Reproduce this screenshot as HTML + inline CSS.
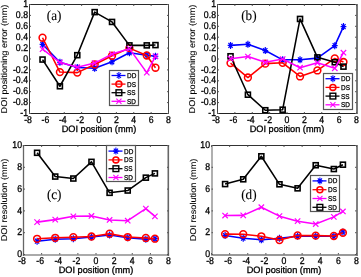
<!DOCTYPE html><html><head><meta charset="utf-8"><style>html,body{margin:0;padding:0;background:#fff;width:361px;height:277px;overflow:hidden}svg{display:block;will-change:transform;text-rendering:geometricPrecision}</style></head><body><svg width="361" height="277" viewBox="0 0 361 277">
<style>.tk{font-family:"Liberation Sans",sans-serif;font-size:9.8px;fill:#000;stroke:#000;stroke-width:0.3px}.lb{font-family:"Liberation Sans",sans-serif;font-size:9.2px;fill:#000;stroke:#000;stroke-width:0.3px}.pn{font-family:"Liberation Serif",serif;font-size:14px;fill:#000;stroke:#000;stroke-width:0.1px}.yl{stroke-width:0.1px}.lg{font-family:"Liberation Sans",sans-serif;font-size:7px;fill:#000;stroke:#000;stroke-width:0.25px}</style>
<rect width="361" height="277" fill="#fff"/>
<polyline points="42.53,44.28 59.91,62.27 77.28,67.45 94.66,68.27 112.03,61.73 129.41,52.73 146.78,55.18 155.47,56.27" fill="none" stroke="#0000ff" stroke-width="1.55" stroke-linejoin="round"/>
<path d="M39.63,44.28H45.43M42.53,40.78V47.78M40.44,41.76L44.62,46.80M40.44,46.80L44.62,41.76" stroke="#0000ff" stroke-width="1.2" fill="none"/>
<path d="M57.01,62.27H62.81M59.91,58.77V65.77M57.82,59.75L62.00,64.79M57.82,64.79L62.00,59.75" stroke="#0000ff" stroke-width="1.2" fill="none"/>
<path d="M74.38,67.45H80.18M77.28,63.95V70.95M75.19,64.93L79.37,69.97M75.19,69.97L79.37,64.93" stroke="#0000ff" stroke-width="1.2" fill="none"/>
<path d="M91.76,68.27H97.56M94.66,64.77V71.77M92.57,65.75L96.75,70.79M92.57,70.79L96.75,65.75" stroke="#0000ff" stroke-width="1.2" fill="none"/>
<path d="M109.13,61.73H114.93M112.03,58.23V65.23M109.94,59.21L114.12,64.25M109.94,64.25L114.12,59.21" stroke="#0000ff" stroke-width="1.2" fill="none"/>
<path d="M126.51,52.73H132.31M129.41,49.23V56.23M127.32,50.21L131.50,55.25M127.32,55.25L131.50,50.21" stroke="#0000ff" stroke-width="1.2" fill="none"/>
<path d="M143.88,55.18H149.68M146.78,51.68V58.68M144.69,52.66L148.87,57.70M144.69,57.70L148.87,52.66" stroke="#0000ff" stroke-width="1.2" fill="none"/>
<path d="M152.57,56.27H158.37M155.47,52.77V59.77M153.38,53.75L157.56,58.79M153.38,58.79L157.56,53.75" stroke="#0000ff" stroke-width="1.2" fill="none"/>
<polyline points="42.53,37.74 59.91,72.08 77.28,72.62 94.66,64.45 112.03,55.73 129.41,48.10 146.78,55.46 155.47,67.72" fill="none" stroke="#ff0000" stroke-width="1.55" stroke-linejoin="round"/>
<circle cx="42.53" cy="37.74" r="3.40" stroke="#ff0000" stroke-width="1.5499999999999998" fill="none"/>
<circle cx="59.91" cy="72.08" r="3.40" stroke="#ff0000" stroke-width="1.5499999999999998" fill="none"/>
<circle cx="77.28" cy="72.62" r="3.40" stroke="#ff0000" stroke-width="1.5499999999999998" fill="none"/>
<circle cx="94.66" cy="64.45" r="3.40" stroke="#ff0000" stroke-width="1.5499999999999998" fill="none"/>
<circle cx="112.03" cy="55.73" r="3.40" stroke="#ff0000" stroke-width="1.5499999999999998" fill="none"/>
<circle cx="129.41" cy="48.10" r="3.40" stroke="#ff0000" stroke-width="1.5499999999999998" fill="none"/>
<circle cx="146.78" cy="55.46" r="3.40" stroke="#ff0000" stroke-width="1.5499999999999998" fill="none"/>
<circle cx="155.47" cy="67.72" r="3.40" stroke="#ff0000" stroke-width="1.5499999999999998" fill="none"/>
<polyline points="42.53,59.55 59.91,86.25 77.28,55.18 94.66,12.13 112.03,21.94 129.41,45.38 146.78,45.38 155.47,45.10" fill="none" stroke="#000000" stroke-width="1.55" stroke-linejoin="round"/>
<rect x="40.03" y="57.05" width="5.00" height="5.00" stroke="#000000" stroke-width="1.6" fill="none"/>
<rect x="57.41" y="83.75" width="5.00" height="5.00" stroke="#000000" stroke-width="1.6" fill="none"/>
<rect x="74.78" y="52.68" width="5.00" height="5.00" stroke="#000000" stroke-width="1.6" fill="none"/>
<rect x="92.16" y="9.63" width="5.00" height="5.00" stroke="#000000" stroke-width="1.6" fill="none"/>
<rect x="109.53" y="19.44" width="5.00" height="5.00" stroke="#000000" stroke-width="1.6" fill="none"/>
<rect x="126.91" y="42.88" width="5.00" height="5.00" stroke="#000000" stroke-width="1.6" fill="none"/>
<rect x="144.28" y="42.88" width="5.00" height="5.00" stroke="#000000" stroke-width="1.6" fill="none"/>
<rect x="152.97" y="42.60" width="5.00" height="5.00" stroke="#000000" stroke-width="1.6" fill="none"/>
<polyline points="42.53,49.19 59.91,62.27 77.28,67.18 94.66,63.09 112.03,54.09 129.41,48.64 146.78,72.62 155.47,56.27" fill="none" stroke="#ff00ff" stroke-width="1.55" stroke-linejoin="round"/>
<path d="M39.83,46.49L45.23,51.89M39.83,51.89L45.23,46.49" stroke="#ff00ff" stroke-width="1.2" fill="none"/>
<path d="M57.21,59.57L62.61,64.97M57.21,64.97L62.61,59.57" stroke="#ff00ff" stroke-width="1.2" fill="none"/>
<path d="M74.58,64.48L79.98,69.88M74.58,69.88L79.98,64.48" stroke="#ff00ff" stroke-width="1.2" fill="none"/>
<path d="M91.96,60.39L97.36,65.79M91.96,65.79L97.36,60.39" stroke="#ff00ff" stroke-width="1.2" fill="none"/>
<path d="M109.33,51.39L114.73,56.79M109.33,56.79L114.73,51.39" stroke="#ff00ff" stroke-width="1.2" fill="none"/>
<path d="M126.71,45.94L132.11,51.34M126.71,51.34L132.11,45.94" stroke="#ff00ff" stroke-width="1.2" fill="none"/>
<path d="M144.08,69.92L149.48,75.32M144.08,75.32L149.48,69.92" stroke="#ff00ff" stroke-width="1.2" fill="none"/>
<path d="M152.77,53.57L158.17,58.97M152.77,58.97L158.17,53.57" stroke="#ff00ff" stroke-width="1.2" fill="none"/>
<path d="M29.0,4.5H169.0" stroke="#2a2a2a" stroke-width="1"/>
<path d="M29.0,113.5H169.0" stroke="#222" stroke-width="1"/>
<path d="M29.5,4.0V114.0" stroke="#333" stroke-width="1"/>
<path d="M168.5,4.0V114.0" stroke="#444" stroke-width="1"/>
<path d="M29.5,113.5v-1.5M29.5,4.5v1.5" stroke="#555" stroke-width="1"/>
<text transform="translate(31.92,122.50) scale(0.89,1)" text-anchor="end" class="tk">-8</text>
<path d="M46.875,113.5v-1.5M46.875,4.5v1.5" stroke="#555" stroke-width="1"/>
<text transform="translate(49.30,122.50) scale(0.89,1)" text-anchor="end" class="tk">-6</text>
<path d="M64.25,113.5v-1.5M64.25,4.5v1.5" stroke="#555" stroke-width="1"/>
<text transform="translate(66.67,122.50) scale(0.89,1)" text-anchor="end" class="tk">-4</text>
<path d="M81.625,113.5v-1.5M81.625,4.5v1.5" stroke="#555" stroke-width="1"/>
<text transform="translate(84.05,122.50) scale(0.89,1)" text-anchor="end" class="tk">-2</text>
<path d="M99.0,113.5v-1.5M99.0,4.5v1.5" stroke="#555" stroke-width="1"/>
<text transform="translate(101.42,122.50) scale(0.89,1)" text-anchor="end" class="tk">0</text>
<path d="M116.375,113.5v-1.5M116.375,4.5v1.5" stroke="#555" stroke-width="1"/>
<text transform="translate(118.80,122.50) scale(0.89,1)" text-anchor="end" class="tk">2</text>
<path d="M133.75,113.5v-1.5M133.75,4.5v1.5" stroke="#555" stroke-width="1"/>
<text transform="translate(136.17,122.50) scale(0.89,1)" text-anchor="end" class="tk">4</text>
<path d="M151.125,113.5v-1.5M151.125,4.5v1.5" stroke="#555" stroke-width="1"/>
<text transform="translate(153.54,122.50) scale(0.89,1)" text-anchor="end" class="tk">6</text>
<path d="M168.5,113.5v-1.5M168.5,4.5v1.5" stroke="#555" stroke-width="1"/>
<text transform="translate(170.92,122.50) scale(0.89,1)" text-anchor="end" class="tk">8</text>
<path d="M29.5,113.5h1.5M168.5,113.5h-1.5" stroke="#555" stroke-width="1"/>
<text transform="translate(28.00,116.10) scale(0.89,1)" text-anchor="end" class="tk">-1</text>
<path d="M29.5,102.60000000000001h1.5M168.5,102.60000000000001h-1.5" stroke="#555" stroke-width="1"/>
<text transform="translate(28.00,105.20) scale(0.89,1)" text-anchor="end" class="tk">-0.8</text>
<path d="M29.5,91.7h1.5M168.5,91.7h-1.5" stroke="#555" stroke-width="1"/>
<text transform="translate(28.00,94.30) scale(0.89,1)" text-anchor="end" class="tk">-0.6</text>
<path d="M29.5,80.80000000000001h1.5M168.5,80.80000000000001h-1.5" stroke="#555" stroke-width="1"/>
<text transform="translate(28.00,83.40) scale(0.89,1)" text-anchor="end" class="tk">-0.4</text>
<path d="M29.5,69.9h1.5M168.5,69.9h-1.5" stroke="#555" stroke-width="1"/>
<text transform="translate(28.00,72.50) scale(0.89,1)" text-anchor="end" class="tk">-0.2</text>
<path d="M29.5,59.0h1.5M168.5,59.0h-1.5" stroke="#555" stroke-width="1"/>
<text transform="translate(28.00,61.60) scale(0.89,1)" text-anchor="end" class="tk">0</text>
<path d="M29.5,48.10000000000001h1.5M168.5,48.10000000000001h-1.5" stroke="#555" stroke-width="1"/>
<text transform="translate(28.00,50.70) scale(0.89,1)" text-anchor="end" class="tk">0.2</text>
<path d="M29.5,37.2h1.5M168.5,37.2h-1.5" stroke="#555" stroke-width="1"/>
<text transform="translate(28.00,39.80) scale(0.89,1)" text-anchor="end" class="tk">0.4</text>
<path d="M29.5,26.299999999999997h1.5M168.5,26.299999999999997h-1.5" stroke="#555" stroke-width="1"/>
<text transform="translate(28.00,28.90) scale(0.89,1)" text-anchor="end" class="tk">0.6</text>
<path d="M29.5,15.399999999999991h1.5M168.5,15.399999999999991h-1.5" stroke="#555" stroke-width="1"/>
<text transform="translate(28.00,18.00) scale(0.89,1)" text-anchor="end" class="tk">0.8</text>
<path d="M29.5,4.5h1.5M168.5,4.5h-1.5" stroke="#555" stroke-width="1"/>
<text transform="translate(28.00,7.10) scale(0.89,1)" text-anchor="end" class="tk">1</text>
<text x="99.0" y="132" text-anchor="middle" class="lb">DOI position (mm)</text>
<text transform="translate(7.3,59.0) rotate(-90) scale(1,0.92)" text-anchor="middle" class="lb yl">DOI positioning error (mm)</text>
<text transform="translate(46.8,20.2) scale(0.94,1)" class="pn">(a)</text>
<rect x="109.5" y="70.5" width="29" height="35" fill="#fff" stroke="#555" stroke-width="1.2"/>
<path d="M111.5,75.5H125.5" stroke="#0000ff" stroke-width="1.3"/>
<path d="M116.00,75.50H121.80M118.90,72.00V79.00M116.81,72.98L120.99,78.02M116.81,78.02L120.99,72.98" stroke="#0000ff" stroke-width="1.1" fill="none"/>
<text transform="translate(127.0,78.0) scale(0.92,1)" class="lg">DD</text>
<path d="M111.5,84.1H125.5" stroke="#ff0000" stroke-width="1.3"/>
<circle cx="118.90" cy="84.10" r="2.96" stroke="#ff0000" stroke-width="1.5499999999999998" fill="none"/>
<text transform="translate(127.0,86.6) scale(0.92,1)" class="lg">DS</text>
<path d="M111.5,92.7H125.5" stroke="#000000" stroke-width="1.3"/>
<rect x="116.03" y="89.83" width="5.75" height="5.75" stroke="#000000" stroke-width="1.4" fill="none"/>
<text transform="translate(127.0,95.2) scale(0.92,1)" class="lg">SS</text>
<path d="M111.5,101.3H125.5" stroke="#ff00ff" stroke-width="1.3"/>
<path d="M116.34,98.73L121.47,103.86M116.34,103.86L121.47,98.73" stroke="#ff00ff" stroke-width="1.1" fill="none"/>
<text transform="translate(127.0,103.8) scale(0.92,1)" class="lg">SD</text>
<polyline points="230.53,45.38 247.91,44.28 265.28,50.55 282.66,59.82 300.03,59.82 317.41,58.13 334.78,45.65 343.47,26.57" fill="none" stroke="#0000ff" stroke-width="1.55" stroke-linejoin="round"/>
<path d="M227.63,45.38H233.43M230.53,41.88V48.88M228.44,42.86L232.62,47.90M228.44,47.90L232.62,42.86" stroke="#0000ff" stroke-width="1.2" fill="none"/>
<path d="M245.01,44.28H250.81M247.91,40.78V47.78M245.82,41.76L250.00,46.80M245.82,46.80L250.00,41.76" stroke="#0000ff" stroke-width="1.2" fill="none"/>
<path d="M262.38,50.55H268.18M265.28,47.05V54.05M263.19,48.03L267.37,53.07M263.19,53.07L267.37,48.03" stroke="#0000ff" stroke-width="1.2" fill="none"/>
<path d="M279.76,59.82H285.56M282.66,56.32V63.32M280.57,57.30L284.75,62.34M280.57,62.34L284.75,57.30" stroke="#0000ff" stroke-width="1.2" fill="none"/>
<path d="M297.13,59.82H302.93M300.03,56.32V63.32M297.94,57.30L302.12,62.34M297.94,62.34L302.12,57.30" stroke="#0000ff" stroke-width="1.2" fill="none"/>
<path d="M314.51,58.13H320.31M317.41,54.63V61.63M315.32,55.61L319.50,60.65M315.32,60.65L319.50,55.61" stroke="#0000ff" stroke-width="1.2" fill="none"/>
<path d="M331.88,45.65H337.68M334.78,42.15V49.15M332.69,43.13L336.87,48.17M332.69,48.17L336.87,43.13" stroke="#0000ff" stroke-width="1.2" fill="none"/>
<path d="M340.57,26.57H346.37M343.47,23.07V30.07M341.38,24.05L345.56,29.09M341.38,29.09L345.56,24.05" stroke="#0000ff" stroke-width="1.2" fill="none"/>
<polyline points="230.53,63.09 247.91,77.53 265.28,63.63 282.66,62.82 300.03,76.44 317.41,70.44 334.78,58.45 343.47,62.00" fill="none" stroke="#ff0000" stroke-width="1.55" stroke-linejoin="round"/>
<circle cx="230.53" cy="63.09" r="3.40" stroke="#ff0000" stroke-width="1.5499999999999998" fill="none"/>
<circle cx="247.91" cy="77.53" r="3.40" stroke="#ff0000" stroke-width="1.5499999999999998" fill="none"/>
<circle cx="265.28" cy="63.63" r="3.40" stroke="#ff0000" stroke-width="1.5499999999999998" fill="none"/>
<circle cx="282.66" cy="62.82" r="3.40" stroke="#ff0000" stroke-width="1.5499999999999998" fill="none"/>
<circle cx="300.03" cy="76.44" r="3.40" stroke="#ff0000" stroke-width="1.5499999999999998" fill="none"/>
<circle cx="317.41" cy="70.44" r="3.40" stroke="#ff0000" stroke-width="1.5499999999999998" fill="none"/>
<circle cx="334.78" cy="58.45" r="3.40" stroke="#ff0000" stroke-width="1.5499999999999998" fill="none"/>
<circle cx="343.47" cy="62.00" r="3.40" stroke="#ff0000" stroke-width="1.5499999999999998" fill="none"/>
<polyline points="230.53,56.27 247.91,94.70 265.28,110.23 282.66,109.69 300.03,18.94 317.41,57.37 334.78,62.27 343.47,66.63" fill="none" stroke="#000000" stroke-width="1.55" stroke-linejoin="round"/>
<rect x="228.03" y="53.77" width="5.00" height="5.00" stroke="#000000" stroke-width="1.6" fill="none"/>
<rect x="245.41" y="92.20" width="5.00" height="5.00" stroke="#000000" stroke-width="1.6" fill="none"/>
<rect x="262.78" y="107.73" width="5.00" height="5.00" stroke="#000000" stroke-width="1.6" fill="none"/>
<rect x="280.16" y="107.19" width="5.00" height="5.00" stroke="#000000" stroke-width="1.6" fill="none"/>
<rect x="297.53" y="16.44" width="5.00" height="5.00" stroke="#000000" stroke-width="1.6" fill="none"/>
<rect x="314.91" y="54.87" width="5.00" height="5.00" stroke="#000000" stroke-width="1.6" fill="none"/>
<rect x="332.28" y="59.77" width="5.00" height="5.00" stroke="#000000" stroke-width="1.6" fill="none"/>
<rect x="340.97" y="64.13" width="5.00" height="5.00" stroke="#000000" stroke-width="1.6" fill="none"/>
<polyline points="230.53,58.73 247.91,56.55 265.28,62.27 282.66,59.00 300.03,67.72 317.41,62.82 334.78,68.27 343.47,52.73" fill="none" stroke="#ff00ff" stroke-width="1.55" stroke-linejoin="round"/>
<path d="M227.83,56.03L233.23,61.43M227.83,61.43L233.23,56.03" stroke="#ff00ff" stroke-width="1.2" fill="none"/>
<path d="M245.21,53.85L250.61,59.25M245.21,59.25L250.61,53.85" stroke="#ff00ff" stroke-width="1.2" fill="none"/>
<path d="M262.58,59.57L267.98,64.97M262.58,64.97L267.98,59.57" stroke="#ff00ff" stroke-width="1.2" fill="none"/>
<path d="M279.96,56.30L285.36,61.70M279.96,61.70L285.36,56.30" stroke="#ff00ff" stroke-width="1.2" fill="none"/>
<path d="M297.33,65.02L302.73,70.42M297.33,70.42L302.73,65.02" stroke="#ff00ff" stroke-width="1.2" fill="none"/>
<path d="M314.71,60.12L320.11,65.52M314.71,65.52L320.11,60.12" stroke="#ff00ff" stroke-width="1.2" fill="none"/>
<path d="M332.08,65.57L337.48,70.97M332.08,70.97L337.48,65.57" stroke="#ff00ff" stroke-width="1.2" fill="none"/>
<path d="M340.77,50.03L346.17,55.43M340.77,55.43L346.17,50.03" stroke="#ff00ff" stroke-width="1.2" fill="none"/>
<path d="M217.0,4.5H358.0" stroke="#222" stroke-width="1"/>
<path d="M217.0,113.5H358.0" stroke="#222" stroke-width="1"/>
<path d="M217.5,4.0V114.0" stroke="#444" stroke-width="1"/>
<path d="M357.0,4.0V114.0" stroke="#777" stroke-width="2"/>
<path d="M217.5,113.5v-1.5M217.5,4.5v1.5" stroke="#555" stroke-width="1"/>
<text transform="translate(219.92,122.50) scale(0.89,1)" text-anchor="end" class="tk">-8</text>
<path d="M234.875,113.5v-1.5M234.875,4.5v1.5" stroke="#555" stroke-width="1"/>
<text transform="translate(237.29,122.50) scale(0.89,1)" text-anchor="end" class="tk">-6</text>
<path d="M252.25,113.5v-1.5M252.25,4.5v1.5" stroke="#555" stroke-width="1"/>
<text transform="translate(254.67,122.50) scale(0.89,1)" text-anchor="end" class="tk">-4</text>
<path d="M269.625,113.5v-1.5M269.625,4.5v1.5" stroke="#555" stroke-width="1"/>
<text transform="translate(272.05,122.50) scale(0.89,1)" text-anchor="end" class="tk">-2</text>
<path d="M287.0,113.5v-1.5M287.0,4.5v1.5" stroke="#555" stroke-width="1"/>
<text transform="translate(289.42,122.50) scale(0.89,1)" text-anchor="end" class="tk">0</text>
<path d="M304.375,113.5v-1.5M304.375,4.5v1.5" stroke="#555" stroke-width="1"/>
<text transform="translate(306.80,122.50) scale(0.89,1)" text-anchor="end" class="tk">2</text>
<path d="M321.75,113.5v-1.5M321.75,4.5v1.5" stroke="#555" stroke-width="1"/>
<text transform="translate(324.17,122.50) scale(0.89,1)" text-anchor="end" class="tk">4</text>
<path d="M339.125,113.5v-1.5M339.125,4.5v1.5" stroke="#555" stroke-width="1"/>
<text transform="translate(341.55,122.50) scale(0.89,1)" text-anchor="end" class="tk">6</text>
<path d="M356.5,113.5v-1.5M356.5,4.5v1.5" stroke="#555" stroke-width="1"/>
<text transform="translate(358.92,122.50) scale(0.89,1)" text-anchor="end" class="tk">8</text>
<path d="M217.5,113.5h1.5M356.5,113.5h-1.5" stroke="#555" stroke-width="1"/>
<text transform="translate(216.00,116.10) scale(0.89,1)" text-anchor="end" class="tk">-1</text>
<path d="M217.5,102.60000000000001h1.5M356.5,102.60000000000001h-1.5" stroke="#555" stroke-width="1"/>
<text transform="translate(216.00,105.20) scale(0.89,1)" text-anchor="end" class="tk">-0.8</text>
<path d="M217.5,91.7h1.5M356.5,91.7h-1.5" stroke="#555" stroke-width="1"/>
<text transform="translate(216.00,94.30) scale(0.89,1)" text-anchor="end" class="tk">-0.6</text>
<path d="M217.5,80.80000000000001h1.5M356.5,80.80000000000001h-1.5" stroke="#555" stroke-width="1"/>
<text transform="translate(216.00,83.40) scale(0.89,1)" text-anchor="end" class="tk">-0.4</text>
<path d="M217.5,69.9h1.5M356.5,69.9h-1.5" stroke="#555" stroke-width="1"/>
<text transform="translate(216.00,72.50) scale(0.89,1)" text-anchor="end" class="tk">-0.2</text>
<path d="M217.5,59.0h1.5M356.5,59.0h-1.5" stroke="#555" stroke-width="1"/>
<text transform="translate(216.00,61.60) scale(0.89,1)" text-anchor="end" class="tk">0</text>
<path d="M217.5,48.10000000000001h1.5M356.5,48.10000000000001h-1.5" stroke="#555" stroke-width="1"/>
<text transform="translate(216.00,50.70) scale(0.89,1)" text-anchor="end" class="tk">0.2</text>
<path d="M217.5,37.2h1.5M356.5,37.2h-1.5" stroke="#555" stroke-width="1"/>
<text transform="translate(216.00,39.80) scale(0.89,1)" text-anchor="end" class="tk">0.4</text>
<path d="M217.5,26.299999999999997h1.5M356.5,26.299999999999997h-1.5" stroke="#555" stroke-width="1"/>
<text transform="translate(216.00,28.90) scale(0.89,1)" text-anchor="end" class="tk">0.6</text>
<path d="M217.5,15.399999999999991h1.5M356.5,15.399999999999991h-1.5" stroke="#555" stroke-width="1"/>
<text transform="translate(216.00,18.00) scale(0.89,1)" text-anchor="end" class="tk">0.8</text>
<path d="M217.5,4.5h1.5M356.5,4.5h-1.5" stroke="#555" stroke-width="1"/>
<text transform="translate(216.00,7.10) scale(0.89,1)" text-anchor="end" class="tk">1</text>
<text x="287.0" y="132" text-anchor="middle" class="lb">DOI position (mm)</text>
<text transform="translate(195.3,59.0) rotate(-90) scale(1,0.92)" text-anchor="middle" class="lb yl">DOI positioning error (mm)</text>
<text transform="translate(241.2,20.3) scale(0.94,1)" class="pn">(b)</text>
<rect x="323.5" y="73.5" width="29" height="36" fill="#fff" stroke="#555" stroke-width="1.2"/>
<path d="M325.5,78.7H339.5" stroke="#0000ff" stroke-width="1.3"/>
<path d="M330.00,78.70H335.80M332.90,75.20V82.20M330.81,76.18L334.99,81.22M330.81,81.22L334.99,76.18" stroke="#0000ff" stroke-width="1.1" fill="none"/>
<text transform="translate(341.0,81.2) scale(0.92,1)" class="lg">DD</text>
<path d="M325.5,87.4H339.5" stroke="#ff0000" stroke-width="1.3"/>
<circle cx="332.90" cy="87.40" r="2.96" stroke="#ff0000" stroke-width="1.5499999999999998" fill="none"/>
<text transform="translate(341.0,89.9) scale(0.92,1)" class="lg">DS</text>
<path d="M325.5,96.1H339.5" stroke="#000000" stroke-width="1.3"/>
<rect x="330.02" y="93.22" width="5.75" height="5.75" stroke="#000000" stroke-width="1.4" fill="none"/>
<text transform="translate(341.0,98.6) scale(0.92,1)" class="lg">SS</text>
<path d="M325.5,104.8H339.5" stroke="#ff00ff" stroke-width="1.3"/>
<path d="M330.33,102.23L335.46,107.36M330.33,107.36L335.46,102.23" stroke="#ff00ff" stroke-width="1.1" fill="none"/>
<text transform="translate(341.0,107.3) scale(0.92,1)" class="lg">SD</text>
<polyline points="37.09,241.20 55.22,239.24 73.34,238.69 91.47,237.06 109.59,235.10 127.72,237.71 145.84,239.24 154.91,238.69" fill="none" stroke="#0000ff" stroke-width="1.55" stroke-linejoin="round"/>
<path d="M34.19,241.20H39.99M37.09,237.70V244.70M35.00,238.68L39.18,243.72M35.00,243.72L39.18,238.68" stroke="#0000ff" stroke-width="1.2" fill="none"/>
<path d="M52.32,239.24H58.12M55.22,235.74V242.74M53.13,236.72L57.31,241.76M53.13,241.76L57.31,236.72" stroke="#0000ff" stroke-width="1.2" fill="none"/>
<path d="M70.44,238.69H76.24M73.34,235.19V242.19M71.25,236.17L75.43,241.21M71.25,241.21L75.43,236.17" stroke="#0000ff" stroke-width="1.2" fill="none"/>
<path d="M88.57,237.06H94.37M91.47,233.56V240.56M89.38,234.54L93.56,239.58M89.38,239.58L93.56,234.54" stroke="#0000ff" stroke-width="1.2" fill="none"/>
<path d="M106.69,235.10H112.49M109.59,231.60V238.60M107.50,232.58L111.68,237.62M107.50,237.62L111.68,232.58" stroke="#0000ff" stroke-width="1.2" fill="none"/>
<path d="M124.82,237.71H130.62M127.72,234.21V241.21M125.63,235.19L129.81,240.23M125.63,240.23L129.81,235.19" stroke="#0000ff" stroke-width="1.2" fill="none"/>
<path d="M142.94,239.24H148.74M145.84,235.74V242.74M143.75,236.72L147.93,241.76M143.75,241.76L147.93,236.72" stroke="#0000ff" stroke-width="1.2" fill="none"/>
<path d="M152.01,238.69H157.81M154.91,235.19V242.19M152.82,236.17L157.00,241.21M152.82,241.21L157.00,236.17" stroke="#0000ff" stroke-width="1.2" fill="none"/>
<polyline points="37.09,238.80 55.22,237.82 73.34,237.17 91.47,236.51 109.59,233.68 127.72,237.06 145.84,237.93 154.91,238.69" fill="none" stroke="#ff0000" stroke-width="1.55" stroke-linejoin="round"/>
<circle cx="37.09" cy="238.80" r="3.40" stroke="#ff0000" stroke-width="1.5499999999999998" fill="none"/>
<circle cx="55.22" cy="237.82" r="3.40" stroke="#ff0000" stroke-width="1.5499999999999998" fill="none"/>
<circle cx="73.34" cy="237.17" r="3.40" stroke="#ff0000" stroke-width="1.5499999999999998" fill="none"/>
<circle cx="91.47" cy="236.51" r="3.40" stroke="#ff0000" stroke-width="1.5499999999999998" fill="none"/>
<circle cx="109.59" cy="233.68" r="3.40" stroke="#ff0000" stroke-width="1.5499999999999998" fill="none"/>
<circle cx="127.72" cy="237.06" r="3.40" stroke="#ff0000" stroke-width="1.5499999999999998" fill="none"/>
<circle cx="145.84" cy="237.93" r="3.40" stroke="#ff0000" stroke-width="1.5499999999999998" fill="none"/>
<circle cx="154.91" cy="238.69" r="3.40" stroke="#ff0000" stroke-width="1.5499999999999998" fill="none"/>
<polyline points="37.09,152.80 55.22,176.56 73.34,178.53 91.47,161.85 109.59,192.81 127.72,190.52 145.84,177.66 154.91,173.40" fill="none" stroke="#000000" stroke-width="1.55" stroke-linejoin="round"/>
<rect x="34.59" y="150.30" width="5.00" height="5.00" stroke="#000000" stroke-width="1.6" fill="none"/>
<rect x="52.72" y="174.06" width="5.00" height="5.00" stroke="#000000" stroke-width="1.6" fill="none"/>
<rect x="70.84" y="176.03" width="5.00" height="5.00" stroke="#000000" stroke-width="1.6" fill="none"/>
<rect x="88.97" y="159.35" width="5.00" height="5.00" stroke="#000000" stroke-width="1.6" fill="none"/>
<rect x="107.09" y="190.31" width="5.00" height="5.00" stroke="#000000" stroke-width="1.6" fill="none"/>
<rect x="125.22" y="188.02" width="5.00" height="5.00" stroke="#000000" stroke-width="1.6" fill="none"/>
<rect x="143.34" y="175.16" width="5.00" height="5.00" stroke="#000000" stroke-width="1.6" fill="none"/>
<rect x="152.41" y="170.90" width="5.00" height="5.00" stroke="#000000" stroke-width="1.6" fill="none"/>
<polyline points="37.09,222.13 55.22,219.62 73.34,216.35 91.47,215.91 109.59,219.95 127.72,220.71 145.84,208.61 154.91,216.35" fill="none" stroke="#ff00ff" stroke-width="1.55" stroke-linejoin="round"/>
<path d="M34.39,219.43L39.79,224.83M34.39,224.83L39.79,219.43" stroke="#ff00ff" stroke-width="1.2" fill="none"/>
<path d="M52.52,216.92L57.92,222.32M52.52,222.32L57.92,216.92" stroke="#ff00ff" stroke-width="1.2" fill="none"/>
<path d="M70.64,213.65L76.04,219.05M70.64,219.05L76.04,213.65" stroke="#ff00ff" stroke-width="1.2" fill="none"/>
<path d="M88.77,213.21L94.17,218.61M88.77,218.61L94.17,213.21" stroke="#ff00ff" stroke-width="1.2" fill="none"/>
<path d="M106.89,217.25L112.29,222.65M106.89,222.65L112.29,217.25" stroke="#ff00ff" stroke-width="1.2" fill="none"/>
<path d="M125.02,218.01L130.42,223.41M125.02,223.41L130.42,218.01" stroke="#ff00ff" stroke-width="1.2" fill="none"/>
<path d="M143.14,205.91L148.54,211.31M143.14,211.31L148.54,205.91" stroke="#ff00ff" stroke-width="1.2" fill="none"/>
<path d="M152.21,213.65L157.61,219.05M152.21,219.05L157.61,213.65" stroke="#ff00ff" stroke-width="1.2" fill="none"/>
<path d="M22.85,145.5H169.10000000000002" stroke="#333" stroke-width="1"/>
<path d="M22.85,255.0H169.10000000000002" stroke="#aaa" stroke-width="2"/>
<path d="M23.5,145.0V256.0" stroke="#666" stroke-width="1.3"/>
<path d="M168.3,145.0V256.0" stroke="#666" stroke-width="1.6"/>
<path d="M23.5,254.5v-1.5M23.5,145.5v1.5" stroke="#555" stroke-width="1"/>
<text transform="translate(25.92,263.50) scale(0.89,1)" text-anchor="end" class="tk">-8</text>
<path d="M41.625,254.5v-1.5M41.625,145.5v1.5" stroke="#555" stroke-width="1"/>
<text transform="translate(44.05,263.50) scale(0.89,1)" text-anchor="end" class="tk">-6</text>
<path d="M59.75,254.5v-1.5M59.75,145.5v1.5" stroke="#555" stroke-width="1"/>
<text transform="translate(62.17,263.50) scale(0.89,1)" text-anchor="end" class="tk">-4</text>
<path d="M77.875,254.5v-1.5M77.875,145.5v1.5" stroke="#555" stroke-width="1"/>
<text transform="translate(80.30,263.50) scale(0.89,1)" text-anchor="end" class="tk">-2</text>
<path d="M96.0,254.5v-1.5M96.0,145.5v1.5" stroke="#555" stroke-width="1"/>
<text transform="translate(98.42,263.50) scale(0.89,1)" text-anchor="end" class="tk">0</text>
<path d="M114.125,254.5v-1.5M114.125,145.5v1.5" stroke="#555" stroke-width="1"/>
<text transform="translate(116.55,263.50) scale(0.89,1)" text-anchor="end" class="tk">2</text>
<path d="M132.25,254.5v-1.5M132.25,145.5v1.5" stroke="#555" stroke-width="1"/>
<text transform="translate(134.67,263.50) scale(0.89,1)" text-anchor="end" class="tk">4</text>
<path d="M150.375,254.5v-1.5M150.375,145.5v1.5" stroke="#555" stroke-width="1"/>
<text transform="translate(152.79,263.50) scale(0.89,1)" text-anchor="end" class="tk">6</text>
<path d="M168.5,254.5v-1.5M168.5,145.5v1.5" stroke="#555" stroke-width="1"/>
<text transform="translate(170.92,263.50) scale(0.89,1)" text-anchor="end" class="tk">8</text>
<path d="M23.5,254.5h1.5M168.5,254.5h-1.5" stroke="#555" stroke-width="1"/>
<text transform="translate(22.00,257.10) scale(0.89,1)" text-anchor="end" class="tk">0</text>
<path d="M23.5,232.7h1.5M168.5,232.7h-1.5" stroke="#555" stroke-width="1"/>
<text transform="translate(22.00,235.30) scale(0.89,1)" text-anchor="end" class="tk">2</text>
<path d="M23.5,210.9h1.5M168.5,210.9h-1.5" stroke="#555" stroke-width="1"/>
<text transform="translate(22.00,213.50) scale(0.89,1)" text-anchor="end" class="tk">4</text>
<path d="M23.5,189.10000000000002h1.5M168.5,189.10000000000002h-1.5" stroke="#555" stroke-width="1"/>
<text transform="translate(22.00,191.70) scale(0.89,1)" text-anchor="end" class="tk">6</text>
<path d="M23.5,167.3h1.5M168.5,167.3h-1.5" stroke="#555" stroke-width="1"/>
<text transform="translate(22.00,169.90) scale(0.89,1)" text-anchor="end" class="tk">8</text>
<path d="M23.5,145.5h1.5M168.5,145.5h-1.5" stroke="#555" stroke-width="1"/>
<text transform="translate(22.00,148.10) scale(0.89,1)" text-anchor="end" class="tk">10</text>
<text x="96.0" y="273" text-anchor="middle" class="lb">DOI position (mm)</text>
<text transform="translate(7.3,200.0) rotate(-90) scale(1,0.92)" text-anchor="middle" class="lb yl">DOI resolution (mm)</text>
<text transform="translate(46.9,198.8) scale(0.94,1)" class="pn">(c)</text>
<rect x="106.5" y="145.5" width="29" height="36" fill="#fff" stroke="#555" stroke-width="1.2"/>
<path d="M108.5,151.1H122.5" stroke="#0000ff" stroke-width="1.3"/>
<path d="M113.00,151.10H118.80M115.90,147.60V154.60M113.81,148.58L117.99,153.62M113.81,153.62L117.99,148.58" stroke="#0000ff" stroke-width="1.1" fill="none"/>
<text transform="translate(124.0,153.6) scale(0.92,1)" class="lg">DD</text>
<path d="M108.5,159.9H122.5" stroke="#ff0000" stroke-width="1.3"/>
<circle cx="115.90" cy="159.90" r="2.96" stroke="#ff0000" stroke-width="1.5499999999999998" fill="none"/>
<text transform="translate(124.0,162.4) scale(0.92,1)" class="lg">DS</text>
<path d="M108.5,168.7H122.5" stroke="#000000" stroke-width="1.3"/>
<rect x="113.03" y="165.82" width="5.75" height="5.75" stroke="#000000" stroke-width="1.4" fill="none"/>
<text transform="translate(124.0,171.2) scale(0.92,1)" class="lg">SS</text>
<path d="M108.5,177.5H122.5" stroke="#ff00ff" stroke-width="1.3"/>
<path d="M113.34,174.94L118.47,180.06M113.34,180.06L118.47,174.94" stroke="#ff00ff" stroke-width="1.1" fill="none"/>
<text transform="translate(124.0,180.0) scale(0.92,1)" class="lg">SD</text>
<polyline points="225.09,235.53 243.22,238.15 261.34,239.78 279.47,238.37 297.59,236.30 315.72,236.30 333.84,236.30 342.91,232.05" fill="none" stroke="#0000ff" stroke-width="1.55" stroke-linejoin="round"/>
<path d="M222.19,235.53H227.99M225.09,232.03V239.03M223.00,233.01L227.18,238.05M223.00,238.05L227.18,233.01" stroke="#0000ff" stroke-width="1.2" fill="none"/>
<path d="M240.32,238.15H246.12M243.22,234.65V241.65M241.13,235.63L245.31,240.67M241.13,240.67L245.31,235.63" stroke="#0000ff" stroke-width="1.2" fill="none"/>
<path d="M258.44,239.78H264.24M261.34,236.28V243.28M259.25,237.26L263.43,242.30M259.25,242.30L263.43,237.26" stroke="#0000ff" stroke-width="1.2" fill="none"/>
<path d="M276.57,238.37H282.37M279.47,234.87V241.87M277.38,235.85L281.56,240.89M277.38,240.89L281.56,235.85" stroke="#0000ff" stroke-width="1.2" fill="none"/>
<path d="M294.69,236.30H300.49M297.59,232.80V239.80M295.50,233.78L299.68,238.82M295.50,238.82L299.68,233.78" stroke="#0000ff" stroke-width="1.2" fill="none"/>
<path d="M312.82,236.30H318.62M315.72,232.80V239.80M313.63,233.78L317.81,238.82M313.63,238.82L317.81,233.78" stroke="#0000ff" stroke-width="1.2" fill="none"/>
<path d="M330.94,236.30H336.74M333.84,232.80V239.80M331.75,233.78L335.93,238.82M331.75,238.82L335.93,233.78" stroke="#0000ff" stroke-width="1.2" fill="none"/>
<path d="M340.01,232.05H345.81M342.91,228.55V235.55M340.82,229.53L345.00,234.57M340.82,234.57L345.00,229.53" stroke="#0000ff" stroke-width="1.2" fill="none"/>
<polyline points="225.09,234.12 243.22,234.23 261.34,236.30 279.47,240.00 297.59,235.43 315.72,235.64 333.84,235.97 342.91,232.70" fill="none" stroke="#ff0000" stroke-width="1.55" stroke-linejoin="round"/>
<circle cx="225.09" cy="234.12" r="3.40" stroke="#ff0000" stroke-width="1.5499999999999998" fill="none"/>
<circle cx="243.22" cy="234.23" r="3.40" stroke="#ff0000" stroke-width="1.5499999999999998" fill="none"/>
<circle cx="261.34" cy="236.30" r="3.40" stroke="#ff0000" stroke-width="1.5499999999999998" fill="none"/>
<circle cx="279.47" cy="240.00" r="3.40" stroke="#ff0000" stroke-width="1.5499999999999998" fill="none"/>
<circle cx="297.59" cy="235.43" r="3.40" stroke="#ff0000" stroke-width="1.5499999999999998" fill="none"/>
<circle cx="315.72" cy="235.64" r="3.40" stroke="#ff0000" stroke-width="1.5499999999999998" fill="none"/>
<circle cx="333.84" cy="235.97" r="3.40" stroke="#ff0000" stroke-width="1.5499999999999998" fill="none"/>
<circle cx="342.91" cy="232.70" r="3.40" stroke="#ff0000" stroke-width="1.5499999999999998" fill="none"/>
<polyline points="225.09,215.59 243.22,215.37 261.34,207.19 279.47,216.13 297.59,221.15 315.72,224.09 333.84,216.89 342.91,211.44" fill="none" stroke="#ff00ff" stroke-width="1.55" stroke-linejoin="round"/>
<path d="M222.39,212.89L227.79,218.29M222.39,218.29L227.79,212.89" stroke="#ff00ff" stroke-width="1.2" fill="none"/>
<path d="M240.52,212.67L245.92,218.07M240.52,218.07L245.92,212.67" stroke="#ff00ff" stroke-width="1.2" fill="none"/>
<path d="M258.64,204.49L264.04,209.89M258.64,209.89L264.04,204.49" stroke="#ff00ff" stroke-width="1.2" fill="none"/>
<path d="M276.77,213.43L282.17,218.83M276.77,218.83L282.17,213.43" stroke="#ff00ff" stroke-width="1.2" fill="none"/>
<path d="M294.89,218.45L300.29,223.85M294.89,223.85L300.29,218.45" stroke="#ff00ff" stroke-width="1.2" fill="none"/>
<path d="M313.02,221.39L318.42,226.79M313.02,226.79L318.42,221.39" stroke="#ff00ff" stroke-width="1.2" fill="none"/>
<path d="M331.14,214.19L336.54,219.59M331.14,219.59L336.54,214.19" stroke="#ff00ff" stroke-width="1.2" fill="none"/>
<path d="M340.21,208.74L345.61,214.14M340.21,214.14L345.61,208.74" stroke="#ff00ff" stroke-width="1.2" fill="none"/>
<polyline points="225.09,184.09 243.22,179.29 261.34,156.29 279.47,184.30 297.59,188.34 315.72,165.23 333.84,169.04 342.91,164.68" fill="none" stroke="#000000" stroke-width="1.55" stroke-linejoin="round"/>
<rect x="222.59" y="181.59" width="5.00" height="5.00" stroke="#000000" stroke-width="1.6" fill="none"/>
<rect x="240.72" y="176.79" width="5.00" height="5.00" stroke="#000000" stroke-width="1.6" fill="none"/>
<rect x="258.84" y="153.79" width="5.00" height="5.00" stroke="#000000" stroke-width="1.6" fill="none"/>
<rect x="276.97" y="181.80" width="5.00" height="5.00" stroke="#000000" stroke-width="1.6" fill="none"/>
<rect x="295.09" y="185.84" width="5.00" height="5.00" stroke="#000000" stroke-width="1.6" fill="none"/>
<rect x="313.22" y="162.73" width="5.00" height="5.00" stroke="#000000" stroke-width="1.6" fill="none"/>
<rect x="331.34" y="166.54" width="5.00" height="5.00" stroke="#000000" stroke-width="1.6" fill="none"/>
<rect x="340.41" y="162.18" width="5.00" height="5.00" stroke="#000000" stroke-width="1.6" fill="none"/>
<path d="M211.0,145.5H358.0" stroke="#333" stroke-width="1"/>
<path d="M211.0,255.0H358.0" stroke="#999" stroke-width="2"/>
<path d="M212.0,145.0V256.0" stroke="#b0b0b0" stroke-width="2"/>
<path d="M357.0,145.0V256.0" stroke="#808080" stroke-width="2"/>
<path d="M211.5,254.5v-1.5M211.5,145.5v1.5" stroke="#555" stroke-width="1"/>
<text transform="translate(213.92,263.50) scale(0.89,1)" text-anchor="end" class="tk">-8</text>
<path d="M229.625,254.5v-1.5M229.625,145.5v1.5" stroke="#555" stroke-width="1"/>
<text transform="translate(232.04,263.50) scale(0.89,1)" text-anchor="end" class="tk">-6</text>
<path d="M247.75,254.5v-1.5M247.75,145.5v1.5" stroke="#555" stroke-width="1"/>
<text transform="translate(250.17,263.50) scale(0.89,1)" text-anchor="end" class="tk">-4</text>
<path d="M265.875,254.5v-1.5M265.875,145.5v1.5" stroke="#555" stroke-width="1"/>
<text transform="translate(268.30,263.50) scale(0.89,1)" text-anchor="end" class="tk">-2</text>
<path d="M284.0,254.5v-1.5M284.0,145.5v1.5" stroke="#555" stroke-width="1"/>
<text transform="translate(286.42,263.50) scale(0.89,1)" text-anchor="end" class="tk">0</text>
<path d="M302.125,254.5v-1.5M302.125,145.5v1.5" stroke="#555" stroke-width="1"/>
<text transform="translate(304.55,263.50) scale(0.89,1)" text-anchor="end" class="tk">2</text>
<path d="M320.25,254.5v-1.5M320.25,145.5v1.5" stroke="#555" stroke-width="1"/>
<text transform="translate(322.67,263.50) scale(0.89,1)" text-anchor="end" class="tk">4</text>
<path d="M338.375,254.5v-1.5M338.375,145.5v1.5" stroke="#555" stroke-width="1"/>
<text transform="translate(340.80,263.50) scale(0.89,1)" text-anchor="end" class="tk">6</text>
<path d="M356.5,254.5v-1.5M356.5,145.5v1.5" stroke="#555" stroke-width="1"/>
<text transform="translate(358.92,263.50) scale(0.89,1)" text-anchor="end" class="tk">8</text>
<path d="M211.5,254.5h1.5M356.5,254.5h-1.5" stroke="#555" stroke-width="1"/>
<text transform="translate(210.00,257.10) scale(0.89,1)" text-anchor="end" class="tk">0</text>
<path d="M211.5,232.7h1.5M356.5,232.7h-1.5" stroke="#555" stroke-width="1"/>
<text transform="translate(210.00,235.30) scale(0.89,1)" text-anchor="end" class="tk">2</text>
<path d="M211.5,210.9h1.5M356.5,210.9h-1.5" stroke="#555" stroke-width="1"/>
<text transform="translate(210.00,213.50) scale(0.89,1)" text-anchor="end" class="tk">4</text>
<path d="M211.5,189.10000000000002h1.5M356.5,189.10000000000002h-1.5" stroke="#555" stroke-width="1"/>
<text transform="translate(210.00,191.70) scale(0.89,1)" text-anchor="end" class="tk">6</text>
<path d="M211.5,167.3h1.5M356.5,167.3h-1.5" stroke="#555" stroke-width="1"/>
<text transform="translate(210.00,169.90) scale(0.89,1)" text-anchor="end" class="tk">8</text>
<path d="M211.5,145.5h1.5M356.5,145.5h-1.5" stroke="#555" stroke-width="1"/>
<text transform="translate(210.00,148.10) scale(0.89,1)" text-anchor="end" class="tk">10</text>
<text x="284.0" y="273" text-anchor="middle" class="lb">DOI position (mm)</text>
<text transform="translate(195.8,200.0) rotate(-90) scale(1,0.92)" text-anchor="middle" class="lb yl">DOI resolution (mm)</text>
<text transform="translate(241.2,199.4) scale(0.94,1)" class="pn">(d)</text>
<rect x="310.5" y="175.5" width="29" height="36" fill="#fff" stroke="#555" stroke-width="1.2"/>
<path d="M312.5,180.9H326.5" stroke="#0000ff" stroke-width="1.3"/>
<path d="M317.00,180.90H322.80M319.90,177.40V184.40M317.81,178.38L321.99,183.42M317.81,183.42L321.99,178.38" stroke="#0000ff" stroke-width="1.1" fill="none"/>
<text transform="translate(328.0,183.4) scale(0.92,1)" class="lg">DD</text>
<path d="M312.5,189.70000000000002H326.5" stroke="#ff0000" stroke-width="1.3"/>
<circle cx="319.90" cy="189.70" r="2.96" stroke="#ff0000" stroke-width="1.5499999999999998" fill="none"/>
<text transform="translate(328.0,192.20000000000002) scale(0.92,1)" class="lg">DS</text>
<path d="M312.5,198.5H326.5" stroke="#ff00ff" stroke-width="1.3"/>
<path d="M317.33,195.94L322.46,201.06M317.33,201.06L322.46,195.94" stroke="#ff00ff" stroke-width="1.1" fill="none"/>
<text transform="translate(328.0,201.0) scale(0.92,1)" class="lg">SS</text>
<path d="M312.5,207.3H326.5" stroke="#000000" stroke-width="1.3"/>
<rect x="317.02" y="204.43" width="5.75" height="5.75" stroke="#000000" stroke-width="1.4" fill="none"/>
<text transform="translate(328.0,209.8) scale(0.92,1)" class="lg">SD</text>
</svg></body></html>
